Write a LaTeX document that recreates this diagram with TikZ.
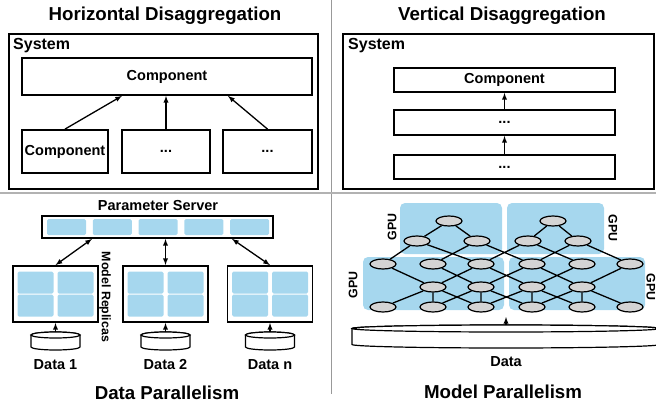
\documentclass[tikz,border=0pt]{standalone}
\usepackage{fontspec}
\setmainfont{Liberation Sans}
\usepackage{tikz}
\usepackage{xcolor}
\usetikzlibrary{shapes.geometric}
\definecolor{cellblue}{RGB}{166,215,238}
\definecolor{unitgray}{RGB}{212,212,212}

\begin{document}
\begin{tikzpicture}[x=1pt,y=-1pt]
\tikzstyle{box}=[draw,line width=1.8pt,inner sep=0pt];
\tikzstyle{title}=[font=\fontsize{18.7}{21}\selectfont\bfseries];
\tikzstyle{syslab}=[font=\fontsize{16}{18}\selectfont\bfseries,inner sep=0pt];
\tikzstyle{lab}=[font=\fontsize{14.5}{17}\selectfont\bfseries];
\tikzstyle{small}=[font=\fontsize{12.4}{14}\selectfont\bfseries];
\tikzstyle{cellbox}=[fill=cellblue,rounded corners=1.5pt,inner sep=0pt];
\tikzstyle{gpubox}=[fill=cellblue,rounded corners=5pt,inner sep=0pt];
\tikzstyle{unit}=[draw,ellipse,fill=unitgray,line width=1.2pt,minimum width=26pt,minimum height=10pt,inner sep=0pt];
\tikzstyle{db}=[draw,line width=1.2pt,fill=white];
\tikzstyle{arr}=[-latex,line width=1.3pt];
\tikzstyle{arrs}=[latex-latex,line width=1.3pt];
\useasboundingbox (0,0) rectangle (656,404);
% dividers
\draw[gray!80,line width=1pt](331,0)--(331,394);
\draw[gray!60,line width=2pt](0,193)--(656,193);
% horizontal disaggregation
\node[title](t1) at (165,16) {Horizontal Disaggregation};
\node[box,minimum width=309pt,minimum height=155pt](hs) at (163.5,111.5) {};
\node[syslab,anchor=west](hsl) at (13,46) {System};
\node[box,lab,minimum width=290pt,minimum height=37pt](ht) at (167,76.5) {Component};
\node[box,lab,minimum width=86pt,minimum height=43pt](h1) at (65,151.5) {Component};
\node[box,lab,minimum width=88pt,minimum height=43pt](h2) at (166,151.5) {...};
\node[box,lab,minimum width=89pt,minimum height=43pt](h3) at (267.5,151.5) {...};
\draw[arr](h1.north)--([xshift=-45pt]ht.south);
\draw[arr](h2.north)--(h2.north|-ht.south);
\draw[arr](h3.north)--([xshift=61pt]ht.south);
% vertical disaggregation
\node[title](t2) at (502,16) {Vertical Disaggregation};
\node[box,minimum width=311pt,minimum height=155pt](vs) at (498.5,111.5) {};
\node[syslab,anchor=west](vsl) at (348,46) {System};
\node[box,lab,minimum width=221pt,minimum height=24pt](v1) at (504.5,80) {Component};
\node[box,lab,minimum width=221pt,minimum height=25pt](v2) at (504.5,122.5) {...};
\node[box,lab,minimum width=221pt,minimum height=24pt](v3) at (504.5,167) {...};
\draw[arr](v3)--(v2);
\draw[arr](v2)--(v1);
% data parallelism
\node[lab](pst) at (158,206) {Parameter Server};
\node[box,minimum width=231pt,minimum height=22pt](ps) at (157.5,227) {};
\foreach \i in {0,...,4}
  \node[cellbox,minimum width=39pt,minimum height=16pt](p\i) at (66.5+45.75*\i,227) {};
\foreach \n/\x/\t in {1/55.5/1,2/165.5/2,3/270/n}{
  \node[box,minimum width=85pt,minimum height=56pt](r\n) at (\x,294) {};
  \foreach \dx/\dy [count=\k] in {-20/-11.5,20/-11.5,-20/11.5,20/11.5}
    \node[cellbox,minimum width=36pt,minimum height=22pt](r\n c\k) at (\x+\dx,294+\dy) {};
  \draw[db](\x-24.5,335)--(\x-24.5,347) arc[start angle=180,end angle=360,x radius=24.5pt,y radius=3pt]
    --(\x+24.5,335) arc[start angle=0,end angle=180,x radius=24.5pt,y radius=3pt]--cycle;
  \draw[db](\x,335) ellipse[x radius=24.5pt,y radius=3pt];
  \coordinate(d\n) at (\x,332);
  \node[lab](dl\n) at (\x,364.5) {Data \t};
  \draw[arr](d\n)--(r\n.south);
}
\draw[arrs](r1.north)--([xshift=-65.5pt]ps.south);
\draw[arrs](r2.north)--(r2.north|-ps.south);
\draw[arrs](r3.north)--([xshift=74.5pt]ps.south);
\node[small,rotate=-90](mr) at (105,297) {Model Replicas};
\node[title](t3) at (167,393) {Data Parallelism};
% model parallelism
\node[gpubox,minimum width=102pt,minimum height=51pt](g1) at (451,228.5) {};
\node[gpubox,minimum width=97pt,minimum height=51pt](g2) at (555.5,228.5) {};
\node[gpubox,minimum width=141pt,minimum height=53pt](g3) at (433.5,283.5) {};
\node[gpubox,minimum width=136pt,minimum height=53pt](g4) at (577,283.5) {};
\node[small,rotate=90](gl1) at (392,227) {GPU};
\node[small,rotate=-90](gl2) at (613,228) {GPU};
\node[small,rotate=90](gl3) at (353,285) {GPU};
\node[small,rotate=-90](gl4) at (651,287) {GPU};
\node[unit](a1) at (449,221) {};
\node[unit](a2) at (553,221) {};
\foreach \n/\x in {1/417,2/477,3/528,4/578} \node[unit](b\n) at (\x,241) {};
\foreach \n/\x in {1/383,2/433,3/481,4/532,5/582,6/630} \node[unit](c\n) at (\x,264) {};
\foreach \n/\x in {1/433,2/481,3/532,4/582} \node[unit](d\n) at (\x,287) {};
\foreach \n/\x in {1/383,2/433,3/481,4/532,5/582,6/630} \node[unit](e\n) at (\x,307) {};
\draw[line width=1.3pt](a1)--(b1)(a1)--(b2)(a2)--(b3)(a2)--(b4)(b1)--(c1)(b1)--(c3)(b2)--(c2)(b2)--(c4)(b3)--(c3)(b3)--(c5)(b4)--(c4)(b4)--(c6);
\draw[line width=1.3pt](c1)--(d1)(c3)--(d1)(c2)--(d2)(c4)--(d2)(c3)--(d3)(c5)--(d3)(c4)--(d4)(c6)--(d4);
\draw[line width=1.3pt](d1)--(e1)(d1)--(e2)(d1)--(e3)(d2)--(e2)(d2)--(e3)(d2)--(e4)(d3)--(e3)(d3)--(e4)(d3)--(e5)(d4)--(e4)(d4)--(e5)(d4)--(e6);
\draw[db](352,328.5)--(352,344.5) arc[start angle=180,end angle=360,x radius=154pt,y radius=3.5pt]
  --(660,328.5) arc[start angle=0,end angle=180,x radius=154pt,y radius=3.5pt]--cycle;
\draw[db](506,328.5) ellipse[x radius=154pt,y radius=3.5pt];
\coordinate(dm) at (506,325);
\coordinate(mpin) at (506,317);
\draw[arr](dm)--(mpin);
\node[lab](dml) at (506,362) {Data};
\node[title](t4) at (503,392) {Model Parallelism};
\end{tikzpicture}
\end{document}
